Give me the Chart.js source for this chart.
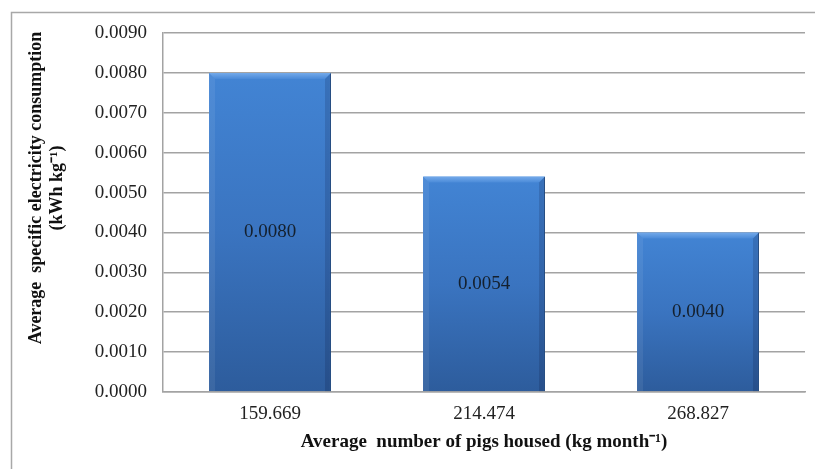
<!DOCTYPE html>
<html>
<head>
<meta charset="utf-8">
<script src="https://cdn.jsdelivr.net/npm/chart.js@4.4.1/dist/chart.umd.min.js"></script>
<style>
  html, body { margin: 0; padding: 0; background: #fff; }
  canvas { display: block; }
</style>
</head>
<body>
<canvas id="chart" width="815" height="469"></canvas>
<script>
// values
const categories = ['159.669', '214.474', '268.827']
const consumption = [0.0080, 0.0054, 0.0040]
const valueLabels = ['0.0080', '0.0054', '0.0040']
const yTitleLines = ['Average  specific electricity consumption', '(kWh kg\u207B\u00B9)']
const xTitle = 'Average  number of pigs housed (kg month\u207B\u00B9)'

const serif = "'Liberation Serif', 'Times New Roman', serif"
const gridColor = '#a3a3a3'

// per-bar vertical gradient, light at the top, darker at the base
function barFill (ctx) {
  const chart = ctx.chart
  const y = chart.scales.y
  if (!y || ctx.raw === undefined) return '#3a74c0'
  const top = y.getPixelForValue(ctx.raw)
  const bottom = y.getPixelForValue(0)
  if (!isFinite(top) || !isFinite(bottom) || bottom - top < 1) return '#3a74c0'
  const g = chart.ctx.createLinearGradient(0, top, 0, bottom)
  g.addColorStop(0, '#4284d4')
  g.addColorStop(0.5, '#3a74c0')
  g.addColorStop(1, '#2d5c9c')
  return g
}

const frame = {
  id: 'frame',
  beforeDraw (chart) {
    const c = chart.ctx
    c.save()
    c.strokeStyle = '#a8a8a8'
    c.lineWidth = 1.5
    c.strokeRect(11.5, 12.5, 840, 500)
    c.restore()
  }
}

const bevel = {
  id: 'bevel',
  afterDatasetsDraw (chart) {
    const c = chart.ctx
    const meta = chart.getDatasetMeta(0)
    c.save()
    meta.data.forEach((bar, i) => {
      const p = bar.getProps(['x', 'y', 'base', 'width'], true)
      const l = p.x - p.width / 2
      const r = p.x + p.width / 2
      const t = p.y
      const b = p.base
      const s = 6
      const g = c.createLinearGradient(0, t, 0, t + s)
      g.addColorStop(0, '#74aaea')
      g.addColorStop(1, '#4a8ad8')
      c.fillStyle = g
      c.beginPath()
      c.moveTo(l, t); c.lineTo(r, t); c.lineTo(r - s, t + s); c.lineTo(l + s, t + s)
      c.closePath(); c.fill()
      c.fillStyle = 'rgba(255,255,255,0.07)'
      c.beginPath()
      c.moveTo(l, t); c.lineTo(l + s, t + s); c.lineTo(l + s, b); c.lineTo(l, b)
      c.closePath(); c.fill()
      c.fillStyle = 'rgba(0,0,30,0.14)'
      c.beginPath()
      c.moveTo(r, t); c.lineTo(r - s, t + s); c.lineTo(r - s, b); c.lineTo(r, b)
      c.closePath(); c.fill()
      // value in the middle of the bar
      c.fillStyle = '#14202e'
      c.font = '19px ' + serif
      c.textAlign = 'center'
      c.textBaseline = 'middle'
      c.fillText(valueLabels[i], p.x, (t + b) / 2)
    })
    c.restore()
  }
}

// y title sits a little above the plot centre, so it is drawn by hand
const yTitle = {
  id: 'yTitle',
  afterDraw (chart) {
    const c = chart.ctx
    c.save()
    c.fillStyle = '#111'
    c.font = 'bold 18px ' + serif
    c.textAlign = 'center'
    c.textBaseline = 'middle'
    c.translate(36, 188)
    c.rotate(-Math.PI / 2)
    c.fillText(yTitleLines[0], 0, 0)
    c.fillText(yTitleLines[1], 0, 21)
    c.restore()
  }
}

new Chart(document.getElementById('chart'), {
  type: 'bar',
  data: {
    labels: categories,
    datasets: [{
      data: consumption,
      backgroundColor: barFill,
      borderColor: '#2b5993',
      borderWidth: { left: 0, right: 1, top: 0, bottom: 0 },
      barPercentage: 0.57,
      categoryPercentage: 1
    }]
  },
  options: {
    responsive: false,
    devicePixelRatio: 1,
    animation: false,
    layout: { padding: { top: 33, right: 10, left: 0, bottom: 0 } },
    plugins: {
      legend: { display: false },
      tooltip: { enabled: false }
    },
    scales: {
      x: {
        grid: { display: false, drawTicks: false },
        border: { display: true, color: gridColor, width: 1.5 },
        ticks: { color: '#222', font: { family: serif, size: 19 }, padding: 11 },
        title: {
          display: true,
          text: xTitle,
          color: '#111',
          font: { family: serif, size: 19, weight: 'bold' },
          padding: { top: 0, bottom: 16 }
        },
        afterFit: (s) => { s.height = 77 }
      },
      y: {
        min: 0,
        max: 0.009,
        grid: { color: gridColor, lineWidth: 1.5, drawTicks: false },
        border: { display: true, color: gridColor, width: 1.5 },
        ticks: {
          stepSize: 0.001,
          padding: 16,
          color: '#222',
          font: { family: serif, size: 19 },
          callback: (v) => Number(v).toFixed(4)
        },
        afterFit: (s) => { s.width = 163 }
      }
    }
  },
  plugins: [frame, bevel, yTitle]
})
</script>
</body>
</html>
